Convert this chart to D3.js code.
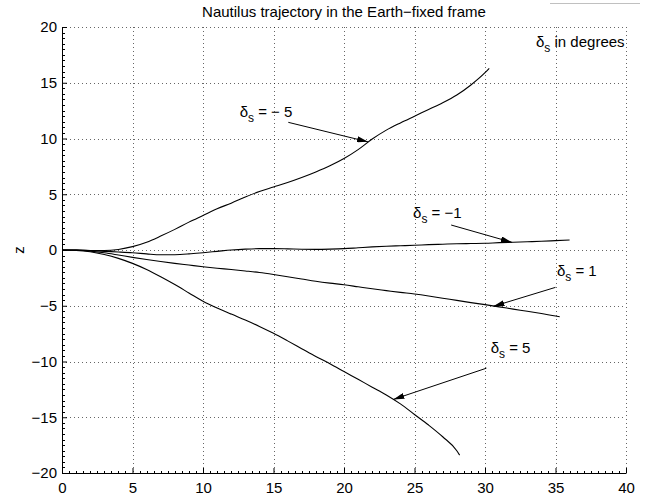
<!DOCTYPE html>
<html>
<head>
<meta charset="utf-8">
<script src="https://cdn.jsdelivr.net/npm/d3@7"></script>
<style>
  html, body { margin: 0; padding: 0; background: #fff; }
  svg { display: block; font-family: "Liberation Sans", Arial, Helvetica, sans-serif; }
</style>
</head>
<body>
<svg id="chart" width="659" height="500"></svg>
<script>
// ---- data ----
const xTicks = [0, 5, 10, 15, 20, 25, 30, 35, 40];
const yTicks = [-20, -15, -10, -5, 0, 5, 10, 15, 20];

const xM5 = [0,1,2,3,4,5,6,7,8,9,10,11,12,13,14,15,16,17,18,19,20,21,22,23,24,25,26,27,28,29,30,30.3];
const zM5 = [0,0,-0.05,-0.05,0.05,0.3,0.7,1.25,1.85,2.5,3.1,3.7,4.2,4.75,5.25,5.65,6.05,6.5,7.0,7.55,8.2,9.0,9.95,10.75,11.4,12.0,12.6,13.2,13.9,14.8,15.9,16.3];

const xM1 = [0,1,2,3,4,5,6,7,8,9,10,11,12,13,14,15,16,17,18,19,20,21,22,23,24,25,26,27,28,29,30,31,32,33,34,35,36];
const zM1 = [0,0,-0.05,-0.12,-0.18,-0.25,-0.35,-0.43,-0.42,-0.35,-0.24,-0.12,0,0.08,0.12,0.12,0.1,0.07,0.06,0.08,0.12,0.2,0.28,0.34,0.38,0.42,0.48,0.52,0.56,0.58,0.6,0.66,0.7,0.74,0.78,0.84,0.9];

const xP1 = [0,1,2,3,4,5,6,7,8,9,10,11,12,13,14,15,16,17,18,19,20,21,22,23,24,25,26,27,28,29,30,31,32,33,34,35,35.3];
const zP1 = [0,-0.02,-0.1,-0.25,-0.45,-0.66,-0.85,-1.03,-1.2,-1.35,-1.5,-1.63,-1.75,-1.88,-2.02,-2.2,-2.4,-2.6,-2.8,-2.97,-3.12,-3.3,-3.48,-3.64,-3.8,-3.95,-4.13,-4.33,-4.52,-4.72,-4.9,-5.1,-5.3,-5.5,-5.7,-5.92,-5.98];

const xP5 = [0,1,2,3,4,5,6,7,8,9,10,11,12,13,14,15,16,17,18,19,20,21,22,23,24,25,26,27,28,28.2];
const zP5 = [0,-0.03,-0.15,-0.4,-0.75,-1.2,-1.75,-2.4,-3.1,-3.85,-4.6,-5.2,-5.75,-6.28,-6.85,-7.47,-8.15,-8.85,-9.55,-10.2,-10.9,-11.6,-12.3,-13.0,-13.8,-14.75,-15.7,-16.75,-18.0,-18.4];

// annotations: label position (data units), arrow tail and head (data units)
const labels = [
  { sub: "s", text: " = \u2212 5", lx: 12.6, lz: 11.9, tx: 16.05, tz: 11.45, hx: 21.7, hz: 9.7 },
  { sub: "s", text: " = \u22121",  lx: 24.9, lz: 2.9,  tx: 27.6,  tz: 2.24,  hx: 31.9, hz: 0.69 },
  { sub: "s", text: " = 1",        lx: 35.1, lz: -2.3, tx: 35.0,  tz: -3.35, hx: 30.6, hz: -5.05 },
  { sub: "s", text: " = 5",        lx: 30.4, lz: -9.2, tx: 30.1,  tz: -10.6, hx: 23.5, hz: -13.4 }
];

// ---- layout ----
const svg = d3.select("#chart");
const L = 62, R = 626, T = 27, B = 473;
const x = d3.scaleLinear().domain([0, 40]).range([L, R]);
const y = d3.scaleLinear().domain([-20, 20]).range([B, T]);

// grid (dotted)
const grid = svg.append("g").attr("stroke", "#000").attr("stroke-width", 1)
  .attr("stroke-dasharray", "1,3").attr("shape-rendering", "crispEdges");
xTicks.filter(d => d !== 0).forEach(d => {
  grid.append("line").attr("x1", Math.round(x(d)) + 0.5).attr("x2", Math.round(x(d)) + 0.5)
    .attr("y1", T).attr("y2", B).attr("stroke-opacity", 0.6);
});
yTicks.filter(d => d !== -20).forEach(d => {
  grid.append("line").attr("y1", Math.round(y(d)) + 0.5).attr("y2", Math.round(y(d)) + 0.5)
    .attr("x1", L).attr("x2", R).attr("stroke-opacity", 0.6);
});

// axes
const xAxis = d3.axisBottom(x).tickValues(xTicks).tickSizeInner(-5).tickSizeOuter(0).tickPadding(9);
const yAxis = d3.axisLeft(y).tickValues(yTicks).tickSizeInner(-5).tickSizeOuter(0).tickPadding(5)
  .tickFormat(d => d < 0 ? "\u2212" + Math.abs(d) : d);

const gx = svg.append("g").attr("transform", `translate(0,${B})`).call(xAxis);
const gy = svg.append("g").attr("transform", `translate(${L},0)`).call(yAxis);
[gx, gy].forEach(g => {
  g.selectAll("text").attr("font-size", 15).attr("fill", "#000")
    .attr("font-family", "Liberation Sans, Arial, sans-serif");
  g.selectAll("line").attr("stroke", "#000");
  g.select(".domain").attr("stroke", "#000");
});

// minor ticks
const minorX = d3.range(0, 40.01, 0.5).filter(d => d % 5 !== 0);
const minorY = d3.range(-20, 20.01, 0.5).filter(d => d % 5 !== 0);
const minor = svg.append("g").attr("stroke", "#000").attr("stroke-width", 1).attr("shape-rendering", "crispEdges");
minorX.forEach(d => minor.append("line")
  .attr("x1", Math.round(x(d)) + 0.5).attr("x2", Math.round(x(d)) + 0.5).attr("y1", B).attr("y2", B - 2.5));
minorY.forEach(d => minor.append("line")
  .attr("y1", Math.round(y(d)) + 0.5).attr("y2", Math.round(y(d)) + 0.5).attr("x1", L).attr("x2", L + 2.5));

// curves
const line = d3.line().x(d => x(d[0])).y(d => y(d[1])).curve(d3.curveMonotoneX);
const series = [[xM5, zM5], [xM1, zM1], [xP1, zP1], [xP5, zP5]];
series.forEach(([xs, zs]) => {
  svg.append("path").datum(xs.map((v, i) => [v, zs[i]]))
    .attr("d", line).attr("fill", "none").attr("stroke", "#000").attr("stroke-width", 1.1);
});

// arrows
svg.append("defs").append("marker").attr("id", "ah")
  .attr("viewBox", "0 0 11 6").attr("refX", 11).attr("refY", 3)
  .attr("markerWidth", 11).attr("markerHeight", 6).attr("markerUnits", "userSpaceOnUse")
  .attr("orient", "auto")
  .append("path").attr("d", "M0,0 L11,3 L0,6 Z").attr("fill", "#000");

labels.forEach(a => {
  svg.append("line").attr("x1", x(a.tx)).attr("y1", y(a.tz)).attr("x2", x(a.hx)).attr("y2", y(a.hz))
    .attr("stroke", "#000").attr("stroke-width", 1).attr("marker-end", "url(#ah)");
  const t = svg.append("text").attr("x", x(a.lx)).attr("y", y(a.lz)).attr("font-size", 15).attr("fill", "#000");
  t.append("tspan").text("\u03b4");
  t.append("tspan").attr("dy", 5).attr("font-size", 12).text(a.sub);
  t.append("tspan").attr("dy", -5).text(a.text);
});

// "δs in degrees"
const deg = svg.append("text").attr("x", x(39.9)).attr("y", y(18.2)).attr("text-anchor", "end")
  .attr("font-size", 15).attr("fill", "#000");
deg.append("tspan").text("\u03b4");
deg.append("tspan").attr("dy", 5).attr("font-size", 12).text("s");
deg.append("tspan").attr("dy", -5).text(" in degrees");

// y label
svg.append("text").attr("transform", `translate(24,${y(0)}) rotate(-90)`).attr("text-anchor", "middle")
  .attr("font-size", 15).attr("fill", "#000").text("z");

// title
svg.append("text").attr("x", (L + R) / 2).attr("y", 17).attr("text-anchor", "middle")
  .attr("font-size", 15).attr("fill", "#000").text("Nautilus trajectory in the Earth\u2212fixed frame");

// faint line at top right
svg.append("line").attr("x1", 550).attr("x2", 640).attr("y1", 3.5).attr("y2", 3.5)
  .attr("stroke", "#c0c0c0").attr("stroke-width", 1);
</script>
</body>
</html>
